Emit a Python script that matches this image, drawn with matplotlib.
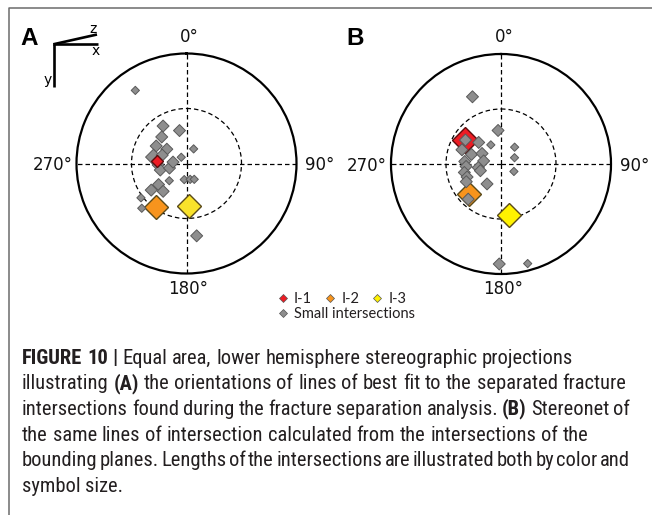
import numpy as np
import matplotlib
matplotlib.use('Agg')
import matplotlib.pyplot as plt
from matplotlib import font_manager
from matplotlib.lines import Line2D

# (A) lines of best fit to the separated fracture intersections
a_trend = [325, 328, 348, 317, 300, 306, 26, 281, 289, 267, 256, 255, 276, 320,
           188, 167, 154, 225, 233, 233, 220, 233, 225, 172]
a_plunge = [20, 57, 65, 63, 64, 72, 78, 65, 71, 69, 70, 77, 80, 84,
            78, 78, 77, 72, 64, 57, 63, 47, 42, 34]
a_length = [1, 2, 2, 2, 2, 2, 1, 3, 2, 2, 2, 2, 2, 1,
            1, 1, 1, 1, 2, 2, 2, 1, 1, 2]
a_main_trend = [275, 215, 177]   # I-1, I-2, I-3
a_main_plunge = [68, 50, 58]

# (B) lines of intersection of the bounding planes
b_trend = [337, 355, 314, 332, 39, 65, 120, 304, 290, 288, 299, 280, 274,
           266, 261, 252, 257, 249, 243, 215, 223, 181, 165]
b_plunge = [34, 65, 67, 74, 74, 79, 79, 58, 59, 67, 74, 77, 63,
            64, 73, 74, 62, 63, 61, 72, 54, 10, 7]
b_length = [2, 2, 2, 1, 1, 1, 1, 2, 2, 2, 2, 2, 2,
            2, 2, 2, 2, 2, 2, 2, 2, 2, 1]
b_main_trend = [304, 227, 171]
b_main_plunge = [58, 57, 51]

main_labels = ['I-1', 'I-2', 'I-3']

GREY, GREY_EDGE = '#8e8e8e', '#595959'
RED, ORANGE = '#ed1c24', '#f7941d'
YELLOW_A, YELLOW_B = '#f9e22b', '#fff200'
TXT = '#231f20'

W, H = 652, 515
fig = plt.figure(figsize=(W / 100, H / 100), dpi=100)
fig.patch.set_facecolor('white')

# full-figure overlay in pixel units for the frame, labels and caption
over = fig.add_axes([0, 0, 1, 1])
over.set_xlim(0, W)
over.set_ylim(H, 0)
over.axis('off')


def project(trend, plunge):
    # equal area (Schmidt) projection, lower hemisphere
    th = np.radians(trend)
    r = np.sqrt(2) * np.sin(np.radians(90 - np.asarray(plunge, float)) / 2)
    return th, r


def net_axes(cx, cy, R=110):
    ax = fig.add_axes([(cx - R) / W, 1 - (cy + R) / H, 2 * R / W, 2 * R / H],
                      projection='polar')
    ax.set_theta_zero_location('N')
    ax.set_theta_direction(-1)
    ax.set_ylim(0, 1)
    ax.set_xticks(np.radians([0, 90, 180, 270]))
    ax.set_xticklabels([])
    ax.set_yticks([0.5])
    ax.set_yticklabels([])
    ax.tick_params(length=0)
    ax.grid(True, color='black', lw=0.9, linestyle=(0, (3.6, 2.4)))
    ax.spines['polar'].set_linewidth(1.6)
    ax.set_facecolor('none')
    offsets = {0: ((3, 19), 'center', 'center_baseline'),
               90: ((9, 0), 'left', 'center_baseline'),
               180: ((2, -13), 'center', 'center_baseline'),
               270: ((-4, 0), 'right', 'center_baseline')}
    for deg, (off, ha, va) in offsets.items():
        ax.annotate(f'{deg}°', xy=(np.radians(deg), 1), xytext=off,
                    textcoords='offset pixels', ha=ha, va=va, fontsize=12,
                    family='DejaVu Sans', color='#111111', annotation_clip=False)
    return ax


def plot_net(ax, trend, plunge, length, m_trend, m_plunge, m_size, m_z, yellow):
    mth, mr = project(m_trend, m_plunge)
    for k, col in enumerate([RED, ORANGE, yellow]):
        edge = '#5c0d0d' if k == 0 else '#5a4a1a'
        ax.plot(mth[k], mr[k], ls='none', marker='D', ms=m_size[k], mfc=col,
                mec=edge, mew=1.0, zorder=m_z[k], clip_on=False)
    th, r = project(trend, plunge)
    ms = 2.3 + 1.9 * np.asarray(length)
    ax.scatter(th, r, marker='D', s=ms ** 2, c=GREY, edgecolors=GREY_EDGE,
               linewidths=0.7, zorder=4, clip_on=False)


ax_a = net_axes(186.5, 163.5)
plot_net(ax_a, a_trend, a_plunge, a_length, a_main_trend, a_main_plunge,
         [6.5, 12, 11.8], [5, 3, 3], YELLOW_A)
ax_b = net_axes(501, 164)
plot_net(ax_b, b_trend, b_plunge, b_length, b_main_trend, b_main_plunge,
         [12.8, 12.6, 12], [3, 3, 3], YELLOW_B)

# frame around the figure block
over.plot([9, 9, W + 2], [H + 2, 8, 8], color='#6b6b6b', lw=1.1, clip_on=False)

# panel letters
over.text(20, 45, 'A', fontsize=17.5, fontweight='bold', family='Liberation Sans',
          color='black', va='baseline')
over.text(346.5, 45, 'B', fontsize=17.5, fontweight='bold', family='Liberation Sans',
          color='black', va='baseline')

# coordinate axes symbol
over.plot([54, 54], [87, 44], color='black', lw=1.9, solid_capstyle='butt')
over.plot([53.3, 98], [44.3, 44.3], color='black', lw=1.9, solid_capstyle='butt')
over.plot([53.3, 97], [44.3, 34.5], color='black', lw=1.9, solid_capstyle='butt')
for s, x, y in [('z', 93, 29), ('x', 95.5, 51), ('y', 47.5, 80)]:
    over.text(x, y, s, fontsize=10, family='DejaVu Sans', ha='center',
              va='center', color='black')

# legend
def handle(col):
    return Line2D([], [], ls='none', marker='D', ms=4.4, mfc=col, mec='#555555',
                  mew=0.5)


leg_kw = dict(loc='upper left', frameon=False, borderpad=0, borderaxespad=0,
              handlelength=0.7, handletextpad=0.4, columnspacing=0.9,
              prop=dict(family='Lato', size=10.5), labelcolor=TXT)
fig.legend([handle(RED), handle(ORANGE), handle(YELLOW_B)], main_labels, ncol=3,
           bbox_to_anchor=(278 / W, 1 - 292 / H), **leg_kw)
fig.legend([handle(GREY)], ['Small intersections'],
           bbox_to_anchor=(278 / W, 1 - 307 / H), **leg_kw)

# caption
caption = [
    [('FIGURE 10 |', 'bold'),
     ('Equal area, lower hemisphere stereographic projections', 'normal')],
    [('illustrating', 'normal'), ('(A)', 'bold'),
     ('the orientations of lines of best fit to the separated fracture', 'normal')],
    [('intersections found during the fracture separation analysis.', 'normal'),
     ('(B)', 'bold'), ('Stereonet of', 'normal')],
    [('the same lines of intersection calculated from the intersections of the',
      'normal')],
    [('bounding planes. Lengths of the intersections are illustrated both by color and',
      'normal')],
    [('symbol size.', 'normal')],
]

installed = {f.name for f in font_manager.fontManager.ttflist}
CAP_FONT = 'Liberation Sans'
for name in ['Liberation Sans Narrow', 'Roboto Condensed', 'Open Sans Condensed',
             'Noto Sans Condensed', 'DejaVu Sans Condensed']:
    if name in installed:
        CAP_FONT = name
        break
renderer = fig.canvas.get_renderer()


def measure(s, size, weight='normal'):
    t = over.text(0, 0, s, fontsize=size, family=CAP_FONT, fontweight=weight)
    w = t.get_window_extent(renderer).width
    t.remove()
    return w


CAP_X0, CAP_WIDTH = 22, 608
ref_line = ' '.join(s for s, _ in caption[2])
cap_size = 10 * CAP_WIDTH / measure(ref_line, 10)
space = measure('a a', cap_size) - measure('aa', cap_size)

for i, line in enumerate(caption):
    y = 363.5 + 25.7 * i
    # break into words so an overlong line can be set with tighter spacing
    words = [(w, weight) for s, weight in line for w in s.split(' ')]
    widths = [measure(w, cap_size, weight) for w, weight in words]
    gap = space
    if sum(widths) + space * (len(words) - 1) > CAP_WIDTH:
        gap = (CAP_WIDTH - sum(widths)) / (len(words) - 1)
    x = CAP_X0
    for (w, weight), wd in zip(words, widths):
        over.text(x, y, w, fontsize=cap_size, family=CAP_FONT,
                  fontweight=weight, color=TXT, va='baseline')
        x += wd + gap

fig.savefig('out.png', dpi=100)
